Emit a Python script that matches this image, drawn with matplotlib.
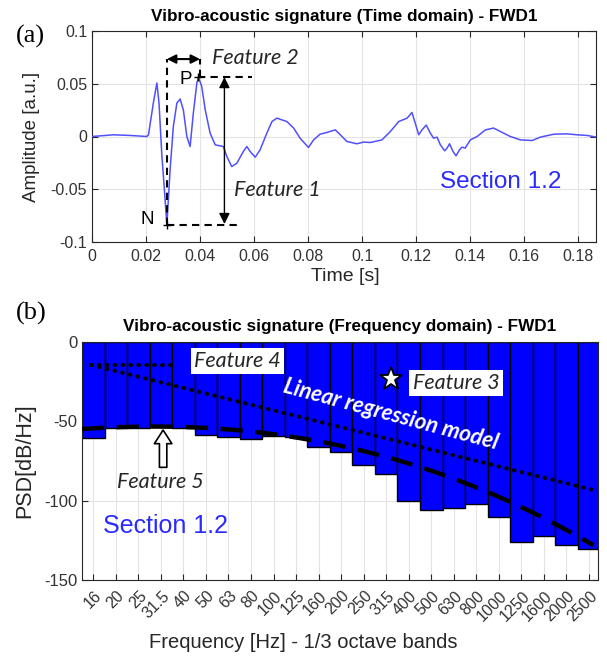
import numpy as np
import matplotlib
matplotlib.use('Agg')
import matplotlib.pyplot as plt
from matplotlib.patches import Arc
from matplotlib.transforms import ScaledTranslation

# ---------------- data ----------------
time_s = [0.0, 0.0079, 0.0141, 0.0203, 0.0209, 0.0227, 0.0240, 0.0248, 0.0258, 0.0267,
          0.0277, 0.0289, 0.0301, 0.0314, 0.0326, 0.0338, 0.0351, 0.0363, 0.0375, 0.0388,
          0.0394, 0.0406, 0.0419, 0.0437, 0.0456, 0.0486, 0.0499, 0.0517, 0.0536, 0.0560,
          0.0573, 0.0585, 0.0604, 0.0622, 0.0647, 0.0666, 0.0684, 0.0721, 0.0746, 0.0770,
          0.0801, 0.0820, 0.0844, 0.0869, 0.0900, 0.0919, 0.0943, 0.0980, 0.1005, 0.1030,
          0.1073, 0.1104, 0.1135, 0.1166, 0.1184, 0.1196, 0.1209, 0.1221, 0.1237, 0.1252,
          0.1264, 0.1277, 0.1289, 0.1305, 0.1314, 0.1323, 0.1336, 0.1347, 0.1360, 0.1369,
          0.1381, 0.1400, 0.1425, 0.1456, 0.1486, 0.1523, 0.1548, 0.1585, 0.1629, 0.1659,
          0.1709, 0.1758, 0.1795, 0.1832, 0.1867]
amplitude = [0.0, 0.0016, 0.0010, 0.0, 0.0016, 0.0317, 0.0507, 0.0317, -0.0158, -0.0474,
             -0.0838, -0.0316, 0.0095, 0.0317, 0.0355, 0.0253, 0.0, -0.0095, 0.0222, 0.0507,
             0.0563, 0.0475, 0.0253, 0.0032, -0.0079, -0.0095, -0.0190, -0.0285, -0.0253, -0.0142,
             -0.0095, -0.0142, -0.0196, -0.0126, 0.0032, 0.0142, 0.0174, 0.0142, 0.0080, -0.0016,
             -0.0104, -0.0032, 0.0022, 0.0038, 0.0063, 0.0016, -0.0047, -0.0069, -0.0053, -0.0057,
             -0.0032, 0.0047, 0.0142, 0.0174, 0.0228, 0.0127, 0.0016, 0.0063, 0.0108, 0.0032,
             -0.0016, -0.0006, -0.0079, -0.0136, -0.0110, -0.0069, -0.0142, -0.0183, -0.0126, -0.0101,
             -0.0110, -0.0032, 0.0, 0.0063, 0.0080, 0.0032, 0.0, -0.0032, -0.0038, -0.0006,
             0.0022, 0.0025, 0.0016, 0.0010, -0.0006]

time_ticks = [0, 0.02, 0.04, 0.06, 0.08, 0.1, 0.12, 0.14, 0.16, 0.18]
time_tick_labels = ['0', '0.02', '0.04', '0.06', '0.08', '0.1', '0.12', '0.14', '0.16', '0.18']
amp_ticks = [-0.1, -0.05, 0, 0.05, 0.1]
amp_tick_labels = ['-0.1', '-0.05', '0', '0.05', '0.1']

bands = ['16', '20', '25', '31.5', '40', '50', '63', '80', '100', '125', '160', '200',
         '250', '315', '400', '500', '630', '800', '1000', '1250', '1600', '2000', '2500']
psd = [-60.7, -54.0, -54.0, -53.4, -54.0, -58.8, -59.6, -61.3, -59.0, -60.0, -66.0, -69.5,
       -77.5, -83.4, -100.0, -105.9, -104.8, -102.3, -110.0, -125.8, -122.2, -127.9, -130.4]
psd_ticks = [-150, -100, -50, 0]

# envelope (dashed) curve: band index, PSD
env_idx = [-0.5, 1.5, 3.0, 4.7, 6.2, 7.5, 8.6, 9.3, 10.5, 11.5, 14.5, 16.6, 18.3, 19.4, 20.8, 22.2]
env_val = [-55.5, -53.3, -52.5, -53.5, -55.0, -57.5, -59.5, -61.0, -64.5, -68.0, -78.6, -89.0,
           -99.6, -105.9, -116.6, -129.0]
# linear regression model (dotted) end points: band index, PSD
reg_idx = [-0.08, 22.2]
reg_val = [-14.5, -93.3]

# ---------------- figure ----------------
W, H = 607, 662
plt.rcParams['axes.unicode_minus'] = False
fig = plt.figure(figsize=(W / 100, H / 100), dpi=100)
SANS = 'Liberation Sans'
FEAT = 'Lato'
TXT = '#262626'
TICKC = '#333333'
FEATC = '#262626'
plt.rcParams['font.family'] = SANS

def axrect(l, t, r, b):
    return [l / W, 1 - b / H, (r - l) / W, (b - t) / H]

def style(ax):
    for s in ax.spines.values():
        s.set_color('#262626')
        s.set_linewidth(0.8)
    ax.tick_params(direction='in', top=True, right=True, length=4, width=0.8,
                   color='#262626', labelcolor=TICKC, labelsize=11.5)
    ax.grid(True, color='#e3e3e3', lw=0.8)
    ax.set_axisbelow(True)

# ---- (a) time domain ----
ax1 = fig.add_axes(axrect(92, 31, 596, 242))
style(ax1)
ax1.plot(time_s, amplitude, color='#5050ff', lw=1.1, zorder=3)
ax1.set_xlim(0, 0.1865)
ax1.set_ylim(-0.1, 0.1)
ax1.set_xticks(time_ticks)
ax1.set_xticklabels(time_tick_labels)
ax1.set_yticks(amp_ticks)
ax1.set_yticklabels(amp_tick_labels)
ax1.tick_params(axis='x', pad=5)
ax1.set_title('Vibro-acoustic signature (Time domain) - FWD1', fontsize=12.3,
              fontweight='bold', color='black', pad=7)

tN, vN = 0.0277, -0.0838
tP, vP = 0.0394, 0.0563
ytop = 0.0734
dkw = dict(color='black', lw=1.5, dashes=(3.5, 2.5), zorder=4)
ax1.plot([tN, tN], [vN - 0.0005, ytop], **dkw)
ax1.plot([0.040, 0.040], [vP, ytop], **dkw)
ax1.plot([tP, 0.0591], [vP, vP], **dkw)
ax1.plot([tN, 0.0554], [vN - 0.0005, vN - 0.0005], **dkw)
ax1.plot([tN, tP], [vN, vP], ls='none', marker='+', color='black', ms=6, mew=1, zorder=5)
ax1.annotate('', xy=(tN, ytop), xytext=(0.0400, ytop),
             arrowprops=dict(arrowstyle='<|-|>', color='black', lw=1.5,
                             mutation_scale=13, shrinkA=0, shrinkB=0), zorder=5)
ax1.annotate('', xy=(0.049, vP), xytext=(0.049, -0.0829),
             arrowprops=dict(arrowstyle='<|-|>', color='black', lw=1.0,
                             mutation_scale=16, shrinkA=0, shrinkB=0), zorder=5)
ax1.text(0.0203, -0.0784, 'N', ha='center', va='center', fontsize=13.5, color='black')
ax1.text(0.0348, 0.0545, 'P', ha='center', va='center', fontsize=13.5, color='black')
ax1.text(0.0443, 0.0744, 'Feature 2', ha='left', va='center', fontsize=15.5,
         style='italic', family=FEAT, color=FEATC)
ax1.text(0.0526, -0.0506, 'Feature 1', ha='left', va='center', fontsize=15.5,
         style='italic', family=FEAT, color=FEATC)
ax1.text(0.1289, -0.0436, 'Section 1.2', ha='left', va='center', fontsize=17.5,
         color='#2a2aff')

fig.text(345 / W, 1 - 276 / H, 'Time [s]', ha='center', va='center', fontsize=14, color=TXT)
fig.text(32 / W, 1 - 137 / H, 'Amplitude [a.u.]', ha='center', va='center', rotation=90,
         fontsize=13.5, color=TXT)
fig.text(30 / W, 1 - 36 / H, '(a)', ha='center', va='center', fontsize=19,
         family='Liberation Serif', color='black')

# ---- (b) frequency domain ----
ax2 = fig.add_axes(axrect(82, 342, 598, 580))
style(ax2)
x = np.arange(len(bands))
ax2.bar(x, psd, width=1.0, color='#0000ff', edgecolor='black', linewidth=1.0, zorder=2)
ax2.set_xlim(-0.5, 22.4)
ax2.set_ylim(-150, 0)
ax2.set_yticks(psd_ticks)
ax2.set_xticks(x)
ax2.set_xticklabels(bands, rotation=45, ha='right', va='center', rotation_mode='anchor',
                    fontsize=11.5)
ax2.tick_params(axis='x', pad=9)
ax2.tick_params(axis='y', labelsize=12)
shift = ScaledTranslation(0.06, -0.01, fig.dpi_scale_trans)
for lab in ax2.get_xticklabels():
    lab.set_transform(lab.get_transform() + shift)
ax2.set_title('Vibro-acoustic signature (Frequency domain) - FWD1', fontsize=12.3,
              fontweight='bold', color='black', pad=8)

coef = np.polyfit(env_idx, env_val, 3)
xe = np.linspace(env_idx[0], env_idx[-1], 200)
ax2.plot(xe, np.polyval(coef, xe), color='black', lw=3.2, dashes=(5, 2.8), zorder=4)
dot = dict(color='black', lw=3.0, dashes=(0.1, 1.8), dash_capstyle='round', zorder=4)
ax2.plot(reg_idx, reg_val, **dot)
ax2.plot([reg_idx[0], 3.7], [reg_val[0], reg_val[0]], **dot)
# angle arc of feature 4 (radius ~70 px)
rx = 70 / (516 / 22.9)
ry = 70 / (238 / 150)
ax2.add_patch(Arc((reg_idx[0], reg_val[0]), 2 * rx, 2 * ry, theta1=-21, theta2=8,
                  color='black', lw=1.3, zorder=5))
ax2.text(6.4, -12, 'Feature 4', ha='center', va='center', fontsize=15.5, style='italic',
         family=FEAT, color=FEATC, zorder=6,
         bbox=dict(boxstyle='square,pad=0.15', fc='white', ec='none'))
ax2.plot([13.2], [-23.5], marker='*', ms=17, mfc='white', mec='black', mew=1.3, zorder=6)
ax2.text(16.1, -25.8, 'Feature 3', ha='center', va='center', fontsize=15.5, style='italic',
         family=FEAT, color=FEATC, zorder=6,
         bbox=dict(boxstyle='square,pad=0.15', fc='white', ec='none'))
ax2.text(13.2, -46, 'Linear regression model', ha='center', va='center', fontsize=16,
         style='italic', fontweight='bold', family=FEAT, color='white', rotation=-15,
         rotation_mode='anchor', zorder=6)
ax2.annotate('', xy=(3.1, -55.5), xytext=(3.1, -79),
             arrowprops=dict(arrowstyle='simple,head_width=0.9,head_length=0.7,tail_width=0.38',
                             fc='white', ec='black', lw=1.2, mutation_scale=14,
                             shrinkA=0, shrinkB=0), zorder=6)
ax2.text(3.0, -88, 'Feature 5', ha='center', va='center', fontsize=15.5, style='italic',
         family=FEAT, color=FEATC, zorder=6)
ax2.text(0.42, -116, 'Section 1.2', ha='left', va='center', fontsize=18, color='#2a2aff',
         zorder=6)

fig.text(303.5 / W, 1 - 643 / H, 'Frequency [Hz] - 1/3 octave bands', ha='center',
         va='center', fontsize=14.5, color=TXT)
fig.text(25 / W, 1 - 461 / H, 'PSD[dB/Hz]', ha='center', va='center', rotation=90,
         fontsize=15.5, color=TXT)
fig.text(31 / W, 1 - 313 / H, '(b)', ha='center', va='center', fontsize=19,
         family='Liberation Serif', color='black')

fig.savefig('out.png', dpi=100)
